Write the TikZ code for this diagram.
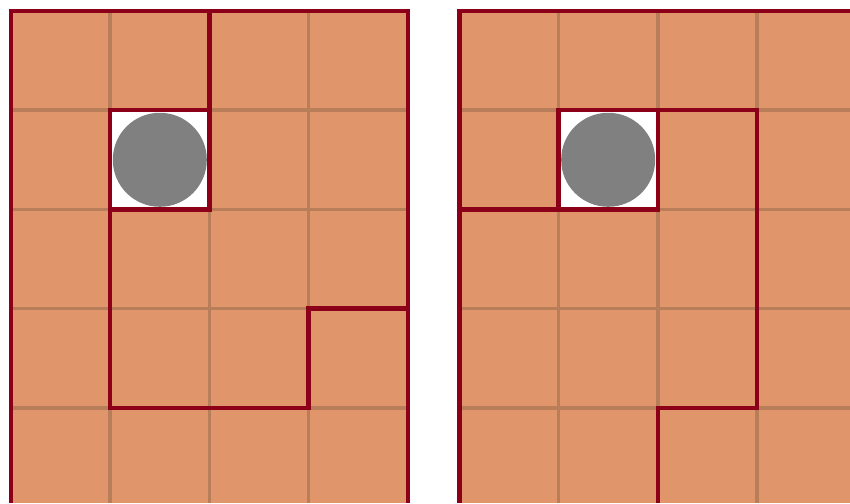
\documentclass[tikz,border=0pt]{standalone}
\usepackage{xcolor}
\usepackage{tikz}
\definecolor{tilefill}{RGB}{224,149,107}
\definecolor{seamline}{RGB}{184,126,90}
\definecolor{wallred}{RGB}{139,0,24}
\definecolor{stonegray}{RGB}{128,128,128}

\begin{document}
\begin{tikzpicture}[
    gridline/.style={draw=seamline, line width=1.05pt},
    wall/.style={draw=wallred, line width=1.3pt, line join=miter},
    stone/.style={fill=stonegray}
]
\useasboundingbox (-0.111,0.04) rectangle (8.458,5.111);
\clip (-0.111,0.04) rectangle (8.458,5.111);

% two boards, same tiles
\foreach \ox in {0,4.52} {
  \begin{scope}[xshift=\ox cm]
    \fill[tilefill] (0,0) rectangle (4,5);
    \draw[gridline] (0,0) grid (4,5);
    \fill[white] (1,3) rectangle (2,4);
    \fill[stone] (1.5,3.5) circle (0.474);
    \draw[wall] (0,0) rectangle (4,5);
    \draw[wall] (1,3) rectangle (2,4);
  \end{scope}
}

% left board walls
\draw[wall] (2,5) -- (2,4);
\draw[wall] (1,3) -- (1,1) -- (3,1) -- (3,2) -- (4,2);

% right board walls
\begin{scope}[xshift=4.52cm]
  \draw[wall] (0,3) -- (1,3);
  \draw[wall] (2,4) -- (3,4) -- (3,1) -- (2,1) -- (2,0);
\end{scope}
\end{tikzpicture}
\end{document}
